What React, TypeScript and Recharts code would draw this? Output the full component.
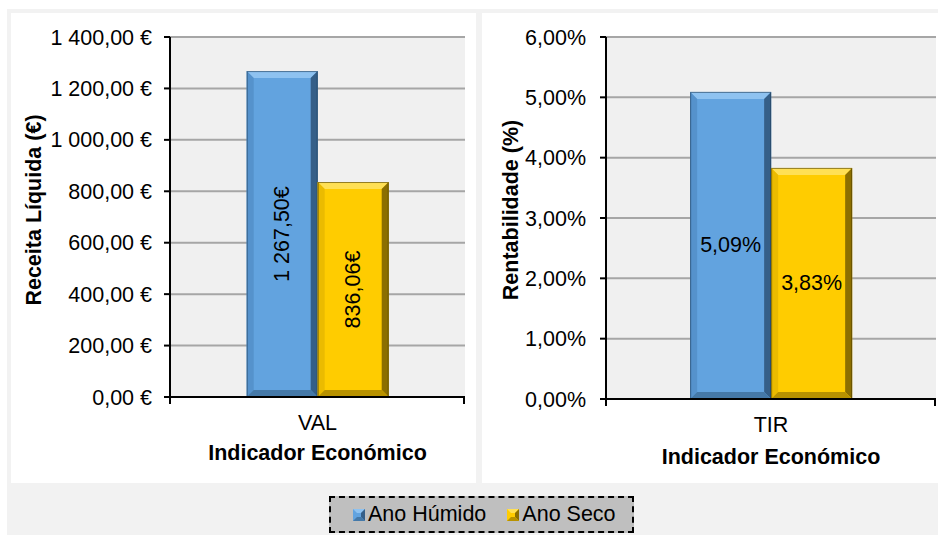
import React from 'react'
import { BarChart, Bar, XAxis, YAxis, CartesianGrid, LabelList } from 'recharts'

const valCategories = ['VAL']
const tirCategories = ['TIR']
const seriesNames = ['Ano Húmido', 'Ano Seco']
const valHumido = [1267.5]
const valSeco = [836.06]
const tirHumido = [0.0509]
const tirSeco = [0.0383]
const valTicks = [0, 200, 400, 600, 800, 1000, 1200, 1400]
const tirTicks = [0, 0.01, 0.02, 0.03, 0.04, 0.05, 0.06]

const FONT = '"Liberation Sans", Arial, sans-serif'
const FS = 21.5

const colors = {
  humido: { main: '#62a3df', top: '#8ec2f0', left: '#5592cc', right: '#355f88', bottom: '#4579a8', edge: '#203d5a' },
  seco: { main: '#ffcc00', top: '#ffe055', left: '#ebbb00', right: '#8c6f00', bottom: '#b89200', edge: '#4d3d00' },
}

const valData = valCategories.map((name, i) => ({ name, humido: valHumido[i], seco: valSeco[i] }))
const tirData = tirCategories.map((name, i) => ({ name, humido: tirHumido[i], seco: tirSeco[i] }))

// 1 400,00 €
const fmtEuro = (v: number, sep = ' ') => {
  const [int, dec] = v.toFixed(2).split('.')
  const withSpaces = int.replace(/\B(?=(\d{3})+(?!\d))/g, ' ')
  return `${withSpaces},${dec}${sep}€`
}
const fmtPct = (v: number) => `${(v * 100).toFixed(2).replace('.', ',')}%`

const bevelShape = (c: typeof colors.humido) => (props: any) => {
  const { x, y, width: w, height: h } = props
  if (!h || h <= 0) return <g />
  const b = 7
  return (
    <g>
      <rect x={x} y={y} width={w} height={h} fill={c.main} />
      <polygon points={`${x},${y} ${x + w},${y} ${x + w - b},${y + b} ${x + b},${y + b}`} fill={c.top} />
      <polygon points={`${x},${y} ${x + b},${y + b} ${x + b},${y + h - b} ${x},${y + h}`} fill={c.left} />
      <polygon points={`${x + w},${y} ${x + w},${y + h} ${x + w - b},${y + h - b} ${x + w - b},${y + b}`} fill={c.right} />
      <polygon points={`${x},${y + h} ${x + w},${y + h} ${x + w - b},${y + h - b} ${x + b},${y + h - b}`} fill={c.bottom} />
      <rect x={x + 0.5} y={y + 0.5} width={w - 1} height={h - 1} fill="none" stroke={c.edge} strokeWidth={1} strokeOpacity={0.6} />
    </g>
  )
}

const rotatedLabel = (fmt: (v: number) => string) => (p: any) => {
  const { x, y, width, height, value } = p
  const cx = x + width / 2
  const cy = y + height / 2
  return (
    <text x={cx} y={cy} transform={`rotate(-90 ${cx} ${cy})`} textAnchor="middle" dominantBaseline="central"
      fontSize={FS} fontFamily={FONT} fill="#000">
      {fmt(value)}
    </text>
  )
}

const flatLabel = (fmt: (v: number) => string) => (p: any) => {
  const { x, y, width, height, value } = p
  return (
    <text x={x + width / 2} y={y + height / 2} textAnchor="middle" dominantBaseline="central"
      fontSize={FS} fontFamily={FONT} fill="#000">
      {fmt(value)}
    </text>
  )
}

const yTitle = (text: string, dx: number, dy: number) => (p: any) => {
  const { viewBox } = p
  const cx = viewBox.x + dx
  const cy = viewBox.y + viewBox.height / 2 + dy
  return (
    <text x={cx} y={cy} transform={`rotate(-90 ${cx} ${cy})`} textAnchor="middle" dominantBaseline="central"
      fontSize={FS} fontWeight="bold" fontFamily={FONT} fill="#000">
      {text}
    </text>
  )
}

const xTitle = (text: string, dy: number) => (p: any) => {
  const { viewBox } = p
  return (
    <text x={viewBox.x + viewBox.width / 2} y={viewBox.y + dy} textAnchor="middle" dominantBaseline="central"
      fontSize={FS} fontWeight="bold" fontFamily={FONT} fill="#000">
      {text}
    </text>
  )
}

// category tick: label plus Excel-style tick marks at the category boundaries
const TICK_GAP = 18
const categoryTick = (p: any) => {
  const { x, y, width, payload } = p
  const left = payload.coordinate - width / 2
  const right = payload.coordinate + width / 2
  const axisY = y - TICK_GAP
  return (
    <g>
      <line x1={left} x2={left} y1={axisY} y2={axisY + 7} stroke="#000" strokeWidth={2} />
      <line x1={right - 1} x2={right - 1} y1={axisY} y2={axisY + 7} stroke="#000" strokeWidth={2} />
      <text x={x} y={y} dy="0.71em" textAnchor="middle" fontSize={FS} fontFamily={FONT} fill="#000">
        {payload.value}
      </text>
    </g>
  )
}

const tickStyle = { fontSize: FS, fontFamily: FONT, fill: '#000' }
const axisLineStyle = { stroke: '#000', strokeWidth: 2 }

const legendItems = [
  { name: seriesNames[0], c: colors.humido },
  { name: seriesNames[1], c: colors.seco },
]

export default function App() {
  return (
    <div style={{ position: 'absolute', left: 0, top: 0, width: 938, height: 535, background: '#fff', fontFamily: FONT }}>
      <div style={{ position: 'absolute', left: 7, top: 9, width: 931, height: 526, background: '#f2f2f2' }} />
      <div style={{ position: 'absolute', left: 11, top: 13, width: 465, height: 470, background: '#fff' }}>
        <BarChart width={465} height={470} data={valData} margin={{ top: 24, right: 11, left: 0, bottom: 0 }}
          barGap={0} barCategoryGap="26%">
          <CartesianGrid vertical={false} fill="#f0f0f0" stroke="#a6a6a6" strokeWidth={2} />
          <XAxis dataKey="name" height={86} tickLine={false} axisLine={axisLineStyle} tick={categoryTick}
            tickSize={6} tickMargin={12} label={{ content: xTitle('Indicador Económico', 56) }} />
          <YAxis width={159} domain={[0, 1400]} ticks={valTicks} interval={0} tickFormatter={(v) => fmtEuro(v)}
            tick={tickStyle} axisLine={axisLineStyle} tickLine={axisLineStyle} tickSize={6} tickMargin={12}
            label={{ content: yTitle('Receita Líquida (€)', 23, -7) }} />
          <Bar dataKey="humido" name={seriesNames[0]} fill={colors.humido.main} shape={bevelShape(colors.humido)} isAnimationActive={false}>
            <LabelList dataKey="humido" content={rotatedLabel((v) => fmtEuro(v, ''))} />
          </Bar>
          <Bar dataKey="seco" name={seriesNames[1]} fill={colors.seco.main} shape={bevelShape(colors.seco)} isAnimationActive={false}>
            <LabelList dataKey="seco" content={rotatedLabel((v) => fmtEuro(v, ''))} />
          </Bar>
        </BarChart>
      </div>
      <div style={{ position: 'absolute', left: 482, top: 13, width: 456, height: 470, background: '#fff' }}>
        <BarChart width={456} height={470} data={tirData} margin={{ top: 24, right: 2, left: 0, bottom: 0 }}
          barGap={0} barCategoryGap="25.5%">
          <CartesianGrid vertical={false} fill="#f0f0f0" stroke="#a6a6a6" strokeWidth={2} />
          <XAxis dataKey="name" height={84} tickLine={false} axisLine={axisLineStyle} tick={categoryTick}
            tickSize={6} tickMargin={12} label={{ content: xTitle('Indicador Económico', 58) }} />
          <YAxis width={124} domain={[0, 0.06]} ticks={tirTicks} interval={0} tickFormatter={fmtPct}
            tick={tickStyle} axisLine={axisLineStyle} tickLine={axisLineStyle} tickSize={6} tickMargin={14}
            label={{ content: yTitle('Rentabilidade (%)', 29, -8) }} />
          <Bar dataKey="humido" name={seriesNames[0]} fill={colors.humido.main} shape={bevelShape(colors.humido)} isAnimationActive={false}>
            <LabelList dataKey="humido" content={flatLabel(fmtPct)} />
          </Bar>
          <Bar dataKey="seco" name={seriesNames[1]} fill={colors.seco.main} shape={bevelShape(colors.seco)} isAnimationActive={false}>
            <LabelList dataKey="seco" content={flatLabel(fmtPct)} />
          </Bar>
        </BarChart>
      </div>
      <div style={{
        position: 'absolute', left: 329, top: 496, width: 305, height: 37, boxSizing: 'border-box',
        background: '#bfbfbf', border: '2px dashed #000', display: 'flex', alignItems: 'center',
        paddingLeft: 22, fontSize: FS, color: '#000', whiteSpace: 'nowrap',
      }}>
        {legendItems.map((it, i) => (
          <div key={it.name} style={{ display: 'flex', alignItems: 'center', marginRight: i === 0 ? 21 : 0 }}>
            <svg width={12} height={12} style={{ marginRight: 3 }}>
              <rect x={0} y={0} width={12} height={12} fill={it.c.main} />
              <polygon points="0,0 12,0 8,4 4,4" fill={it.c.top} />
              <polygon points="12,0 12,12 8,8 8,4" fill={it.c.right} />
              <polygon points="0,12 12,12 8,8 4,8" fill={it.c.bottom} />
            </svg>
            <span>{it.name}</span>
          </div>
        ))}
      </div>
    </div>
  )
}
